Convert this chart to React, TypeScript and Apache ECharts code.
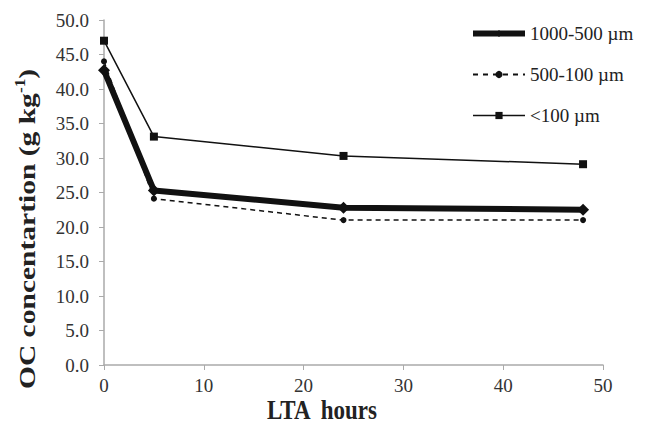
import React, { useEffect, useRef } from "react";
import * as echarts from "echarts";

const hours = [0, 5, 24, 48];
const coarse = [42.7, 25.3, 22.8, 22.5];
const medium = [44.0, 24.1, 21.0, 21.0];
const fine = [47.0, 33.1, 30.3, 29.1];
const seriesNames = ["1000-500 µm", "500-100 µm", "<100 µm"];
const yTitle = "OC concentartion (g kg";
const ySup = "-1";
const xTitle = "LTA  hours";

const FONT = "Liberation Serif";

export default function App() {
  const ref = useRef<HTMLDivElement>(null);
  useEffect(() => {
    if (!ref.current) return;
    const chart = echarts.init(ref.current, undefined, { renderer: "svg" });
    const pts = (ys: number[]) => hours.map((h, i) => [h, ys[i]]);
    chart.setOption({
      animation: false,
      backgroundColor: "#fff",
      textStyle: { fontFamily: FONT },
      grid: { left: 104, right: 66, top: 20, bottom: 60, outerBoundsMode: "none", containLabel: false },
      legend: {
        orient: "vertical",
        left: 465,
        top: 19,
        itemWidth: 52,
        itemHeight: 9,
        itemGap: 22,
        textStyle: { fontFamily: FONT, fontSize: 19, color: "#222" },
        data: [
          { name: seriesNames[0], lineStyle: { width: 6 }, itemStyle: { color: "#111" } },
          { name: seriesNames[1], lineStyle: { width: 2, type: [5, 5] }, itemStyle: { color: "#111" } },
          { name: seriesNames[2], lineStyle: { width: 1.5 }, itemStyle: { color: "#111" } },
        ],
      },
      graphic: [
        {
          type: "text",
          x: 27,
          y: 229,
          rotation: Math.PI / 2,
          scaleX: 1.23,
          style: {
            text: "{a|" + yTitle + "}{s|" + ySup + "}{a|)}",
            align: "center",
            verticalAlign: "middle",
            rich: {
              a: { fontFamily: FONT, fontSize: 24, fontWeight: "bold", fill: "#222", lineHeight: 28 },
              s: { fontFamily: FONT, fontSize: 14, fontWeight: "bold", fill: "#222", verticalAlign: "top", lineHeight: 28, padding: [0, 0, 12, 0] },
            },
          },
        },
        {
          type: "text",
          x: 322,
          y: 410,
          scaleY: 1.22,
          style: {
            text: xTitle,
            fontFamily: FONT,
            fontSize: 23,
            fontWeight: "bold",
            fill: "#222",
            align: "center",
            verticalAlign: "middle",
          },
        },
      ],
      xAxis: {
        type: "value",
        min: 0,
        max: 50,
        interval: 10,
        axisLine: { show: true, lineStyle: { color: "#aaa", width: 1.5 } },
        axisTick: { show: true, length: 5, lineStyle: { color: "#aaa" } },
        axisLabel: { fontFamily: FONT, fontSize: 19, color: "#333", margin: 11 },
        splitLine: { show: false },
      },
      yAxis: {
        type: "value",
        min: 0,
        max: 50,
        interval: 5,
        axisLine: { show: true, lineStyle: { color: "#aaa", width: 1.5 } },
        axisTick: { show: true, length: 5, lineStyle: { color: "#aaa" } },
        axisLabel: { fontFamily: FONT, fontSize: 19, color: "#333", margin: 15, formatter: (v: number) => v.toFixed(1) },
        splitLine: { show: false },
      },
      series: [
        {
          name: seriesNames[0],
          type: "line",
          data: pts(coarse),
          symbol: "diamond",
          symbolSize: 12,
          lineStyle: { color: "#111", width: 6 },
          itemStyle: { color: "#111" },
          z: 3,
        },
        {
          name: seriesNames[1],
          type: "line",
          data: pts(medium),
          symbol: "circle",
          symbolSize: 6,
          lineStyle: { color: "#111", width: 1.5, type: [5, 4] },
          itemStyle: { color: "#111" },
          z: 2,
        },
        {
          name: seriesNames[2],
          type: "line",
          data: pts(fine),
          symbol: "rect",
          symbolSize: 8,
          lineStyle: { color: "#111", width: 1.5 },
          itemStyle: { color: "#111" },
          z: 2,
        },
      ],
    });
    return () => chart.dispose();
  }, []);
  return <div ref={ref} style={{ width: 669, height: 425, position: "absolute", left: 0, top: 0 }} />;
}
